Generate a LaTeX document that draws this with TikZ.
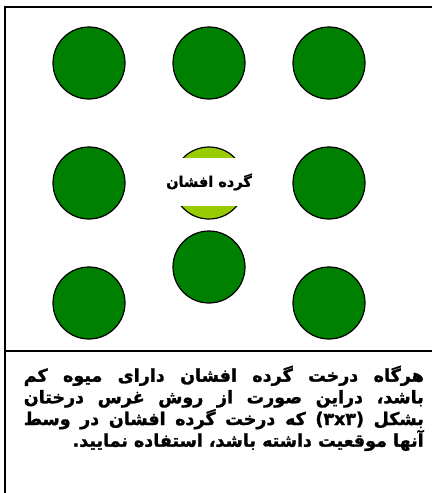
\documentclass[tikz,border=0pt]{standalone}
\usepackage{fontspec}
\newfontfamily\arabicfont[Script=Arabic,UprightFont={DejaVu Sans Bold},FakeBold=1.5]{DejaVu Sans}
\TeXXeTstate=1
\definecolor{treegreen}{HTML}{008000}
\definecolor{pollgreen}{HTML}{99CC00}
\tikzset{
  tree/.style={circle,draw=black,line width=1.2pt,fill=treegreen,minimum size=72pt,inner sep=0pt},
  pollinator/.style={circle,draw=black,line width=1.2pt,fill=pollgreen,minimum size=72pt,inner sep=0pt},
  frame/.style={draw=black,line width=1.5pt},
  label/.style={fill=white,inner sep=0pt,minimum width=90pt,minimum height=48pt,font=\arabicfont\fontsize{14.5}{17}\selectfont},
  bodytext/.style={anchor=north east,inner sep=0pt,align=right,font=\arabicfont\fontsize{17.5}{21.7}\selectfont}
}
\begin{document}
\begin{tikzpicture}[x=1pt,y=-1pt]
\useasboundingbox (0,0) rectangle (432,493);
\fill[white] (0,0) rectangle (432,493);
% frame
\coordinate (tl) at (5,7);
\coordinate (tr) at (432,7);
\coordinate (bl) at (5,493);
\coordinate (ml) at (5,351);
\coordinate (mr) at (432,351);
\draw[frame] (tr) -- (tl) -- (bl);
\draw[frame,line width=2pt] (ml) -- (mr);
% trees
\node[tree] (t11) at (89,63) {};
\node[tree] (t12) at (209,63) {};
\node[tree] (t13) at (329,63) {};
\node[tree] (t21) at (89,183) {};
\node[pollinator] (p) at (209,183) {};
\node[tree] (t23) at (329,183) {};
\node[tree] (t31) at (89,303) {};
\node[tree] (t32) at (209,267) {};
\node[tree] (t33) at (329,303) {};
\node[label] (plabel) at (209,182) {\beginR گرده افشان\endR};
% text
\node[bodytext] (txt) at (424,365.5) {%
\makebox[400pt][s]{\beginR هرگاه درخت گرده افشان دارای میوه کم\endR}\\
\makebox[400pt][s]{\beginR باشد، دراین صورت از روش غرس درختان\endR}\\
\makebox[400pt][s]{\beginR بشکل \beginL(۳x۳)\endL{} که درخت گرده افشان در وسط\endR}\\
\makebox[400pt][r]{\beginR آنها موقعیت داشته باشد، استفاده نمایید.\endR}};
\end{tikzpicture}
\end{document}
